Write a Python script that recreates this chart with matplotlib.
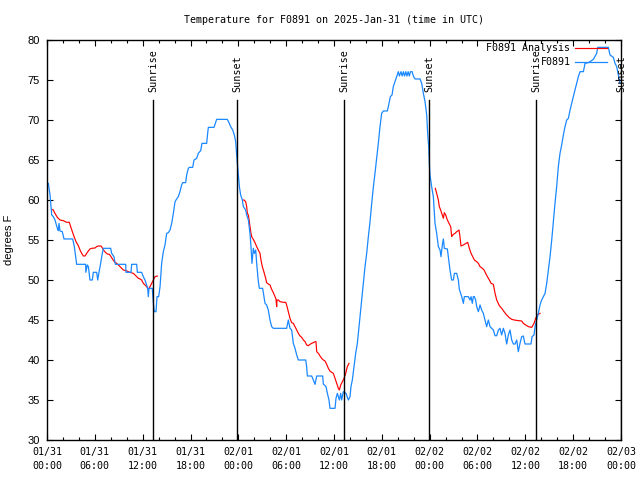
import numpy as np
import matplotlib
matplotlib.use("Agg")
import matplotlib.pyplot as plt
from matplotlib.ticker import MultipleLocator, FixedLocator

# ---- data (hours since 2025-01-31 00:00 UTC, degrees F) ----
obs_hours = [0.17, 0.38, 0.59, 0.79, 1.00, 1.30, 1.42, 1.51, 1.63, 1.92, 2.13, 3.22, 3.43, 3.60, 3.72,
             4.85, 4.87, 5.06, 5.19, 5.39, 5.69, 5.81, 6.23, 6.36, 6.52, 6.73, 6.90, 7.07, 7.99, 8.11,
             8.40, 8.57, 9.87, 9.91, 10.54, 10.62, 11.25, 11.33, 11.87, 12.08, 12.29, 12.50, 12.63,
             12.71, 12.79, 13.21, 13.25, 13.38, 13.46, 13.67, 13.80, 14.01, 14.18, 14.38, 14.59, 14.80,
             15.01, 15.22, 15.43, 15.64, 15.85, 16.06, 16.27, 16.47, 16.68, 16.89, 17.02, 17.39, 17.52,
             17.73, 17.85, 18.27, 18.44, 18.77, 18.98, 19.28, 19.44, 20.03, 20.15, 20.24, 20.95, 21.16,
             21.28, 22.62, 22.87, 23.04, 23.29, 23.50, 23.67, 23.79, 23.92, 24.00, 24.13, 24.29, 24.50,
             24.63, 24.92, 25.05, 25.26, 25.46, 25.59, 25.71, 25.88, 26.01, 26.18, 26.30, 26.51, 26.64,
             27.05, 27.22, 27.35, 27.55, 27.76, 27.97, 28.18, 28.39, 30.06, 30.27, 30.48, 30.69, 30.90,
             31.11, 31.32, 31.53, 32.45, 32.57, 32.66, 33.20, 33.41, 33.62, 33.83, 34.58, 34.66, 35.00,
             35.17, 35.37, 35.50, 36.13, 36.25, 36.42, 36.67, 36.84, 36.96, 37.17, 37.51, 37.80, 38.01,
             38.13, 38.30, 38.51, 38.72, 38.93, 39.10, 39.26, 39.47, 39.68, 39.89, 40.10, 40.31, 40.52,
             40.73, 40.94, 41.14, 41.35, 41.56, 41.77, 41.98, 42.19, 42.69, 42.86, 43.07, 43.28, 43.44,
             43.65, 43.78, 43.86, 44.07, 44.20, 44.40, 44.55, 44.70, 44.85, 45.00, 45.15, 45.30, 45.45,
             45.60, 45.80, 45.95, 46.16, 46.79, 47.00, 47.21, 47.42, 47.63, 47.75, 47.88, 47.96, 48.04,
             48.25, 48.46, 48.67, 48.88, 49.09, 49.30, 49.42, 49.59, 49.72, 49.84, 50.22, 50.39, 50.55,
             50.76, 50.97, 51.10, 51.39, 51.60, 51.72, 52.02, 52.23, 52.35, 52.85, 53.06, 53.19, 53.35,
             53.48, 53.61, 53.77, 53.90, 54.11, 54.32, 54.52, 54.73, 54.94, 55.15, 55.36, 55.57, 55.78,
             55.99, 56.20, 56.41, 56.62, 56.82, 57.03, 57.24, 57.45, 57.66, 57.87, 58.08, 58.29, 58.50,
             58.71, 58.92, 59.12, 59.33, 59.54, 59.75, 59.96, 60.71, 60.84, 61.09, 61.22, 61.42, 61.63,
             61.84, 62.05, 62.26, 62.47, 62.68, 62.89, 63.10, 63.31, 63.51, 63.72, 63.93, 64.14, 64.35,
             64.56, 64.77, 64.98, 65.19, 65.40, 65.61, 65.81, 66.02, 66.23, 66.44, 66.65, 66.86, 67.28,
             67.49, 67.90, 68.11, 68.53, 68.95, 69.08, 70.41, 70.62, 71.04, 71.25, 71.46, 71.67, 71.88]
obs_temps = [62.08, 60.63, 58.13, 57.92, 57.50, 56.46, 56.17, 57.08, 56.13, 56.04, 55.13, 55.13, 54.17, 52.92, 51.96,
             51.96, 50.96, 51.88, 51.67, 50.00, 50.00, 50.96, 50.96, 50.00, 50.96, 52.08, 53.13, 53.96, 53.96, 53.33,
             52.92, 51.96, 51.96, 50.96, 50.96, 51.96, 51.96, 50.96, 50.96, 50.42, 50.00, 49.38, 48.96,
             47.92, 48.96, 48.96, 48.33, 46.67, 46.04, 46.04, 47.92, 47.92, 49.17, 52.08, 53.54, 54.38,
             55.83, 55.92, 56.25, 57.08, 58.33, 59.79, 60.13, 60.42, 61.04, 61.88, 62.17, 62.17, 63.13,
             63.96, 64.08, 64.08, 65.00, 65.21, 65.83, 66.17, 67.08, 67.08, 68.33, 69.08, 69.08, 69.71,
             70.08, 70.08, 69.58, 69.17, 68.75, 68.13, 67.29, 65.63, 64.17, 63.13, 61.67, 60.63, 60.00,
             59.17, 58.75, 58.13, 57.50, 55.83, 54.17, 52.08, 53.96, 53.33, 53.75, 52.08, 49.79, 48.96,
             48.96, 47.92, 47.08, 46.88, 46.25, 45.00, 44.17, 43.96, 43.96, 45.00, 43.96, 43.75, 42.08,
             41.46, 40.63, 40.00, 40.00, 39.17, 38.00, 38.00, 37.50, 36.96, 38.00, 38.00, 37.00, 36.67,
             35.83, 35.00, 33.96, 33.96, 35.21, 35.83, 35.00, 35.83, 35.00, 36.04, 35.83, 35.00, 35.42,
             36.67, 37.50, 39.17, 40.83, 42.08, 43.75, 45.42, 47.50, 49.58, 51.67, 53.33, 55.42, 57.29,
             59.58, 61.67, 63.33, 65.21, 67.08, 69.17, 70.83, 71.13, 71.13, 71.88, 72.92, 73.13, 74.17,
             74.79, 75.21, 75.42, 76.04, 75.50, 76.04, 75.50, 76.04, 75.50, 76.04, 75.50, 76.04, 75.50,
             76.04, 76.04, 75.50, 75.13, 75.13, 74.58, 73.33, 72.29, 70.63, 68.33, 66.67, 64.58, 63.13,
             61.67, 60.42, 57.08, 55.83, 54.17, 53.75, 52.92, 54.38, 55.13, 53.96, 53.88, 52.50, 51.25,
             50.00, 50.00, 50.83, 50.83, 50.00, 48.83, 47.92, 47.08, 47.92, 47.92, 47.50, 47.92, 47.08,
             47.92, 47.92, 47.50, 46.67, 46.04, 46.88, 46.25, 45.83, 45.00, 44.17, 45.00, 44.17, 43.96,
             43.75, 43.04, 43.04, 43.75, 43.96, 43.13, 43.96, 43.33, 42.00, 43.13, 43.75, 42.50, 42.00,
             42.00, 42.50, 41.04, 42.08, 42.92, 43.00, 42.00, 42.00, 42.92, 43.13, 44.17, 45.00, 45.83,
             46.88, 47.50, 47.92, 48.33, 49.58, 51.25, 52.92, 55.00, 57.29, 59.58, 61.67, 64.17, 65.83,
             66.88, 68.13, 69.17, 70.00, 70.21, 71.25, 72.08, 72.92, 73.75, 74.58, 75.42, 76.04, 76.04,
             77.08, 77.17, 77.29, 77.58, 78.33, 79.08, 79.08, 78.13, 77.83, 77.08, 76.67, 75.63, 74.58]

ana1_hours = [0.59, 0.79, 1.00, 1.30, 1.63, 2.05, 2.47, 2.80, 2.97, 3.18, 3.43, 3.64, 3.93, 4.14, 4.35,
              4.56, 4.77, 4.98, 5.19, 5.39, 5.60, 6.02, 6.23, 6.44, 6.77, 6.98, 7.15, 7.36, 7.57, 7.82,
              8.03, 8.24, 8.45, 8.74, 8.95, 9.16, 9.37, 9.58, 9.91, 10.20, 10.41, 10.83, 11.04, 11.25,
              11.46, 11.67, 11.87, 12.08, 12.29, 12.50, 12.71, 12.92, 13.13, 13.34, 13.55, 13.84]
ana1_temps = [58.83, 58.75, 58.33, 57.83, 57.50, 57.42, 57.21, 57.21, 56.67, 56.04, 55.33, 54.79, 54.29, 53.75, 53.33,
              53.00, 53.00, 53.33, 53.63, 53.88, 53.96, 54.00, 54.17, 54.25, 54.25, 53.96, 53.67, 53.42, 53.25, 53.21,
              52.92, 52.58, 52.29, 52.08, 51.88, 51.67, 51.46, 51.25, 51.17, 51.04, 50.96, 50.83, 50.63, 50.42,
              50.21, 50.13, 50.00, 49.58, 49.38, 49.17, 48.80, 49.17, 49.58, 50.00, 50.42, 50.50]

ana2_hours = [24.54, 24.71, 24.92, 25.05, 25.13, 25.26, 25.38, 25.46, 25.59, 25.71, 25.88, 26.09, 26.30,
              26.51, 26.72, 26.84, 27.01, 27.14, 27.26, 27.43, 27.55, 27.76, 27.97, 28.18, 28.39, 28.60,
              28.72, 28.81, 28.85, 29.02, 29.23, 29.65, 29.94, 30.06, 30.27, 30.48, 30.69, 30.90, 31.11,
              31.32, 31.53, 31.74, 31.95, 32.16, 32.37, 32.57, 32.78, 32.99, 33.20, 33.41, 33.62, 33.74,
              33.83, 34.04, 34.25, 34.45, 34.66, 34.87, 35.08, 35.29, 35.50, 35.92, 36.13, 36.34, 36.55,
              36.67, 36.84, 37.05, 37.26, 37.47, 37.67, 37.88]
ana2_temps = [60.00, 60.00, 59.79, 59.17, 58.33, 58.13, 57.29, 56.67, 55.83, 55.33, 55.08, 54.67, 54.17,
              53.75, 53.33, 52.50, 51.67, 51.25, 50.83, 50.21, 49.67, 49.50, 49.38, 48.83, 48.42, 47.92,
              47.63, 46.67, 47.50, 47.50, 47.29, 47.21, 47.21, 46.88, 46.04, 45.21, 44.67, 44.58, 44.17,
              43.75, 43.33, 43.00, 42.83, 42.50, 42.29, 41.88, 41.79, 41.96, 42.08, 42.17, 42.29, 42.29,
              41.04, 40.83, 40.50, 40.21, 40.00, 39.88, 39.46, 38.96, 38.60, 38.33, 37.71, 37.08, 36.46,
              36.25, 36.88, 37.29, 37.71, 38.33, 39.17, 39.58]

ana3_hours = [48.71, 48.88, 49.09, 49.21, 49.38, 49.51, 49.72, 49.84, 50.01, 50.22, 50.43, 50.64, 50.76,
              50.97, 51.18, 51.39, 51.68, 51.80, 51.93, 52.23, 52.56, 52.77, 52.98, 53.19, 53.40, 53.61,
              53.90, 54.11, 54.32, 54.61, 54.82, 55.03, 55.24, 55.49, 55.70, 55.99, 56.20, 56.41, 56.74,
              57.03, 57.33, 57.66, 57.95, 58.29, 58.62, 59.12, 59.54, 59.75, 60.04, 60.38, 60.80, 61.09,
              61.30, 61.51, 61.84]
ana3_temps = [61.46, 60.83, 60.00, 59.17, 58.75, 58.33, 57.71, 58.42, 58.13, 57.50, 57.08, 56.67, 55.42,
              55.71, 55.83, 56.04, 56.25, 55.42, 54.25, 54.38, 54.58, 54.71, 53.96, 53.33, 52.92, 52.50,
              52.29, 52.08, 51.67, 51.46, 51.25, 50.83, 50.42, 50.00, 49.58, 49.46, 48.33, 47.50, 46.79,
              46.46, 46.04, 45.63, 45.33, 45.08, 45.00, 44.92, 44.88, 44.58, 44.38, 44.17, 44.08, 44.58,
              45.21, 45.63, 45.83]

sun_hours = [13.34, 23.87, 37.30, 47.96, 61.38, 72.05]
sun_labels = ["Sunrise", "Sunset", "Sunrise", "Sunset", "Sunrise", "Sunset"]

xtick_hours = list(range(0, 73, 6))
xtick_labels = ["01/31\n00:00", "01/31\n06:00", "01/31\n12:00", "01/31\n18:00",
                "02/01\n00:00", "02/01\n06:00", "02/01\n12:00", "02/01\n18:00",
                "02/02\n00:00", "02/02\n06:00", "02/02\n12:00", "02/02\n18:00",
                "02/03\n00:00"]

title = "Temperature for F0891 on 2025-Jan-31 (time in UTC)"
ylabel = "degrees F"

# ---- figure ----
MONO = "DejaVu Sans Mono"
SANS = "Liberation Sans"
RED = "#ff0000"
BLUE = "#1a88ff"

fig = plt.figure(figsize=(6.4, 4.8), dpi=100)
ax = fig.add_axes([47/640, 1 - 440/480, 574/640, 400/480])
ax.set_xlim(0, 72)
ax.set_ylim(30, 80)

ax.plot(ana1_hours, ana1_temps, color=RED, lw=0.85, label="F0891 Analysis")
ax.plot(ana2_hours, ana2_temps, color=RED, lw=0.85)
ax.plot(ana3_hours, ana3_temps, color=RED, lw=0.85)
ax.plot(obs_hours, obs_temps, color=BLUE, lw=0.9, label="F0891")

for h, lab in zip(sun_hours, sun_labels):
    ax.plot([h, h], [30, 72.5], color="black", lw=1.0)
    ax.text(h, 73.5, lab, rotation=90, ha="center", va="bottom",
            fontsize=7.3, family=MONO, clip_on=False)

ax.xaxis.set_major_locator(FixedLocator(xtick_hours))
ax.set_xticklabels(xtick_labels, family=MONO, fontsize=7.2, linespacing=1.45)
ax.xaxis.set_minor_locator(MultipleLocator(2))
ax.yaxis.set_major_locator(MultipleLocator(5))
for lbl in ax.get_yticklabels():
    lbl.set_family(SANS)
    lbl.set_fontsize(8)

ax.tick_params(axis="both", which="major", direction="in", length=4, width=0.8,
               top=True, right=True, color="black")
ax.tick_params(axis="x", which="minor", direction="in", length=2, width=0.8, top=True)
ax.tick_params(axis="x", which="major", pad=5)
ax.tick_params(axis="y", which="major", pad=5)
for s in ax.spines.values():
    s.set_linewidth(1.0)

ax.set_title(title, family=MONO, fontsize=7.2, pad=12)
ax.set_ylabel(ylabel, family=SANS, fontsize=8, labelpad=10)

leg = ax.legend(loc="upper right", bbox_to_anchor=(0.985, 1.004), frameon=False,
                markerfirst=False, prop={"family": MONO, "size": 7.2},
                handlelength=3.2, handletextpad=0.5, labelspacing=0.4, borderpad=0)

fig.savefig("out.png", dpi=100)
